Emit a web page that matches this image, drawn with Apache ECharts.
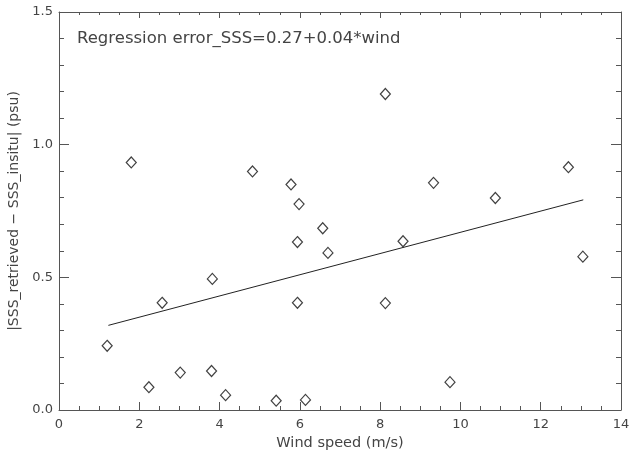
<!DOCTYPE html>
<html>
<head>
<meta charset="utf-8">
<script src="https://cdn.jsdelivr.net/npm/echarts@6/dist/echarts.min.js"></script>
<style>
html,body{margin:0;padding:0;background:#fff;}
#chart{width:629px;height:453px;}
</style>
</head>
<body>
<div id="chart"></div>
<script>
// Observations: wind speed (m/s) vs |SSS_retrieved - SSS_insitu| (psu)
var windSpeed = [1.20, 1.80, 2.24, 2.57, 3.02, 3.80, 3.82, 4.15, 4.82, 5.41, 5.78, 5.94, 5.94, 5.98, 6.14, 6.57, 6.70, 8.13, 8.13, 8.57, 9.33, 9.74, 10.87, 12.69, 13.05];
var sssError  = [0.242, 0.933, 0.086, 0.404, 0.141, 0.147, 0.494, 0.056, 0.899, 0.035, 0.850, 0.633, 0.404, 0.776, 0.038, 0.685, 0.592, 1.191, 0.403, 0.636, 0.856, 0.105, 0.799, 0.915, 0.578];
// Regression line endpoints
var fitX = [1.23, 13.06];
var fitY = [0.319, 0.792];
var xTicks = [0, 2, 4, 6, 8, 10, 12, 14];
var yTicks = ['0.0', '0.5', '1.0', '1.5'];
var titleText = 'Regression error_SSS=0.27+0.04*wind';

var pts = windSpeed.map(function(x, i){ return [x, sssError[i]]; });
var fit = fitX.map(function(x, i){ return [x, fitY[i]]; });

var axisCol = '#555';
var textCol = '#444';
var font = 'DejaVu Sans';

var chart = echarts.init(document.getElementById('chart'), null, {renderer: 'canvas'});
chart.setOption({
  animation: false,
  backgroundColor: '#fff',
  title: {
    text: titleText,
    left: 77, top: 30, padding: 0,
    textStyle: {fontFamily: font, fontSize: 16.5, fontWeight: 'normal', color: textCol}
  },
  grid: {left: 59, right: 8, top: 12, bottom: 43, outerBoundsMode: 'none', containLabel: false},
  xAxis: [{
    type: 'value', min: 0, max: 14, interval: 2, position: 'bottom',
    name: 'Wind speed (m/s)', nameLocation: 'middle', nameGap: 22,
    nameTextStyle: {fontFamily: font, fontSize: 14.5, color: textCol},
    axisLine: {show: true, onZero: false, lineStyle: {color: axisCol, width: 1}},
    axisTick: {show: true, inside: true, length: 8, lineStyle: {color: axisCol}},
    minorTick: {show: true, splitNumber: 4, length: 4, lineStyle: {color: axisCol}},
    axisLabel: {fontFamily: font, fontSize: 13, color: textCol, margin: 8,
      formatter: function(v){ return xTicks.indexOf(v) >= 0 ? String(v) : ''; }},
    splitLine: {show: false}
  }, {
    type: 'value', min: 0, max: 14, interval: 2, position: 'top',
    axisLine: {show: true, onZero: false, lineStyle: {color: axisCol, width: 1}},
    axisTick: {show: true, inside: true, length: 6, lineStyle: {color: axisCol}},
    minorTick: {show: true, splitNumber: 4, length: 3, lineStyle: {color: axisCol}},
    axisLabel: {show: false},
    splitLine: {show: false}
  }],
  yAxis: [{
    type: 'value', min: 0, max: 1.5, interval: 0.5, position: 'left',
    name: '|SSS_retrieved \u2212 SSS_insitu| (psu)', nameLocation: 'middle', nameGap: 37,
    nameTextStyle: {fontFamily: font, fontSize: 14, color: textCol},
    axisLine: {show: true, onZero: false, lineStyle: {color: axisCol, width: 1}},
    axisTick: {show: true, inside: true, length: 10, lineStyle: {color: axisCol}},
    minorTick: {show: true, splitNumber: 5, length: 5, lineStyle: {color: axisCol}},
    axisLabel: {fontFamily: font, fontSize: 13, color: textCol, margin: 6,
      formatter: function(v){ var i = Math.round(v / 0.5); return yTicks[i] || ''; }},
    splitLine: {show: false}
  }, {
    type: 'value', min: 0, max: 1.5, interval: 0.5, position: 'right',
    axisLine: {show: true, onZero: false, lineStyle: {color: axisCol, width: 1}},
    axisTick: {show: true, inside: true, length: 10, lineStyle: {color: axisCol}},
    minorTick: {show: true, splitNumber: 5, length: 5, lineStyle: {color: axisCol}},
    axisLabel: {show: false},
    splitLine: {show: false}
  }],
  series: [{
    type: 'scatter',
    xAxisIndex: 0, yAxisIndex: 0,
    data: pts,
    symbol: 'diamond',
    symbolSize: [10, 11],
    itemStyle: {color: '#fff', borderColor: '#111', borderWidth: 1.2}
  }, {
    type: 'line',
    xAxisIndex: 0, yAxisIndex: 0,
    data: fit,
    symbol: 'none',
    lineStyle: {color: '#222', width: 1}
  }]
});
</script>
</body>
</html>
